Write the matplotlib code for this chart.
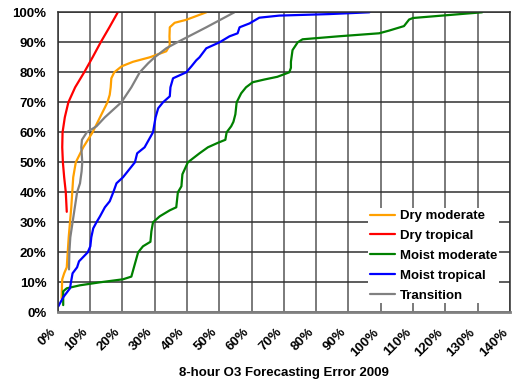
import matplotlib
matplotlib.use("Agg")
import matplotlib.pyplot as plt
import matplotlib.transforms as mtransforms
from matplotlib.ticker import MultipleLocator, PercentFormatter

plt.rcParams['font.family'] = ['Liberation Sans', 'DejaVu Sans']
plt.rcParams['font.weight'] = 'bold'

# cumulative share of days (%) vs. forecasting error (%)
dry_mod_x = [1.2, 1.3, 1.4, 2.0, 2.8, 3.1, 3.4, 3.8, 4.2, 4.5, 4.8, 5.6, 7.9, 10.8, 13.1, 15.4, 16.1,
             16.4, 16.6, 17.5, 19.8, 23.3, 28.5, 33.6, 34.7, 34.6, 34.7, 36.2, 39.8, 46.0]
dry_mod_y = [4.7, 8, 11, 13, 15, 20, 25, 30, 35, 40, 45, 50, 55, 60, 65, 70, 72.5,
             75, 78, 80, 82, 83.5, 85, 87, 89, 92, 95, 96.5, 97.5, 100]

dry_trop_x = [2.8, 2.5, 2.0, 1.6, 1.4, 1.5, 2.2, 3.3, 5.4, 8.2, 10.8, 13.3, 16.0, 18.6]
dry_trop_y = [33.5, 40, 45, 50, 55, 60, 65, 70, 75, 80, 85, 90, 95, 100]

moist_mod_x = [1.7, 1.7, 2.8, 6.9, 13.1, 20.2, 22.8, 23.6, 24.9, 26.4, 28.7, 29.0, 29.5, 31.6,
               34.7, 36.7, 37.2, 38.3, 38.6, 40.3, 43.9, 46.5, 49.6, 51.9, 52.3, 53.7, 54.4,
               55.0, 55.4, 56.8, 58.3, 60.4, 64.0, 68.0, 71.7, 72.2, 72.2, 72.7, 74.3, 75.8,
               87.0, 99.5, 102.6, 107.2, 108.8, 110.0, 131.4]
moist_mod_y = [2.4, 7, 8, 9, 10, 11, 11.9, 15, 20, 22, 23.5, 27, 30, 32,
               34, 35, 40, 42, 46, 50, 53, 55, 56.5, 57.5, 60, 62, 63.5,
               66, 70, 73, 75, 76.7, 77.6, 78.5, 80, 81.5, 83.5, 87.4, 90, 91,
               92, 93, 93.9, 95.4, 97.6, 98.1, 100]

moist_trop_x = [0.2, 1.7, 3.1, 3.8, 4.1, 4.6, 6.0, 6.6, 9.3, 10.1, 10.4, 11.0, 12.0, 13.1,
                14.6, 16.1, 17.2, 18.2, 20.2, 23.9, 24.6, 26.9, 29.5, 30.3, 31.1, 32.6,
                34.7, 34.9, 35.7, 39.8, 41.4, 42.9, 43.9, 46.0, 50.1, 53.2, 55.7, 56.3,
                59.4, 62.4, 68.6, 84.0, 96.5]
moist_trop_y = [2, 5, 7, 8, 10, 13, 15, 17, 20, 22, 25, 28, 30, 32,
                35, 37, 40, 43, 45, 50, 53, 55, 60, 65, 68, 70,
                72, 75, 78, 80, 82, 84, 85, 88, 90, 92, 93, 95,
                96.3, 98.2, 98.9, 99.4, 100]

trans_x = [3.5, 3.6, 3.9, 4.6, 5.3, 6.0, 6.9, 7.4, 7.6, 7.3, 7.5, 9.0, 12.0, 14.6, 19.7,
           22.8, 25.4, 28.0, 30.0, 33.6, 37.0, 46.0, 54.7]
trans_y = [14.3, 20, 25, 30, 35, 40, 43, 47, 50, 55, 57.5, 60, 62, 65, 70,
           75, 80, 83, 85, 88, 90, 95, 100]

series = [
    ("Dry moderate", dry_mod_x, dry_mod_y, "#FFA000"),
    ("Dry tropical", dry_trop_x, dry_trop_y, "#FF0000"),
    ("Moist moderate", moist_mod_x, moist_mod_y, "#008000"),
    ("Moist tropical", moist_trop_x, moist_trop_y, "#0000FF"),
    ("Transition", trans_x, trans_y, "#808080"),
]

fig = plt.figure(figsize=(5.13, 3.83), dpi=100)
ax = fig.add_axes([0.1125, 0.1846, 0.8815, 0.7833])

for name, xs, ys, col in series:
    ax.plot(xs, ys, color=col, lw=1.6, label=name,
            solid_capstyle='round', solid_joinstyle='round')

ax.set_xlim(0, 140)
ax.set_ylim(0, 100)
ax.xaxis.set_major_locator(MultipleLocator(10))
ax.yaxis.set_major_locator(MultipleLocator(10))
ax.xaxis.set_major_formatter(PercentFormatter(decimals=0))
ax.yaxis.set_major_formatter(PercentFormatter(decimals=0))

# grid: grey verticals, dark horizontals
ax.grid(axis='x', color='#707070', lw=1.3)
ax.grid(axis='y', color='#303030', lw=1.1)
ax.set_axisbelow(True)
for side in ['left', 'top', 'right']:
    ax.spines[side].set_color('#303030')
    ax.spines[side].set_linewidth(1.1)
ax.spines['bottom'].set_color('#808080')
ax.spines['bottom'].set_linewidth(2)

ax.tick_params(axis='both', length=0, labelsize=9.5)
ax.tick_params(axis='y', pad=8)
ax.tick_params(axis='x', pad=13)
offset = mtransforms.ScaledTranslation(-4 / 100, 0, fig.dpi_scale_trans)
for lab in ax.get_xticklabels():
    lab.set_rotation(45)
    lab.set_ha('right')
    lab.set_va('center')
    lab.set_rotation_mode('anchor')
    lab.set_fontweight('bold')
    lab.set_transform(lab.get_transform() + offset)
for lab in ax.get_yticklabels():
    lab.set_fontweight('bold')

ax.set_xlabel("8-hour O3 Forecasting Error 2009", fontsize=9.5, fontweight='bold')
ax.xaxis.set_label_coords(0.5, -0.183)

leg = ax.legend(loc='lower right', bbox_to_anchor=(0.975, 0.03), borderaxespad=0,
                fontsize=9.5, frameon=True, fancybox=False, framealpha=1,
                edgecolor='none', handlelength=1.9, handletextpad=0.35,
                labelspacing=0.58, borderpad=0.12)
for t in leg.get_texts():
    t.set_fontweight('bold')

fig.savefig("out.png", dpi=100)
